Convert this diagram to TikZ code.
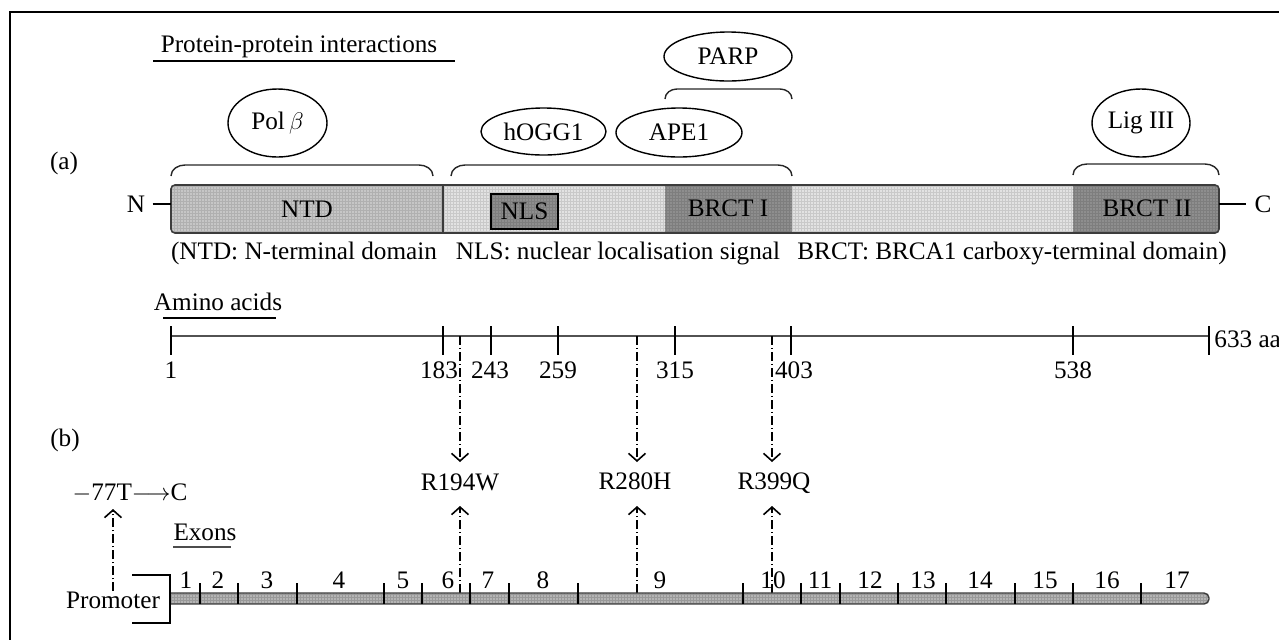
\documentclass[tikz,border=0pt]{standalone}
\usepackage{fontspec}
\setmainfont{Liberation Serif}
\usetikzlibrary{shapes.geometric,arrows.meta}

\definecolor{ntdfill}{HTML}{C6C6C6}
\definecolor{linkfill}{HTML}{E2E2E2}
\definecolor{brctfill}{HTML}{8E8E8E}
\definecolor{exonfill}{HTML}{B4B4B4}
\definecolor{barline}{HTML}{3C3C3C}

\begin{document}
\begin{tikzpicture}[x=0.5pt,y=-0.5pt,
  every node/.style={font=\fontsize{12.6pt}{15pt}\selectfont, inner sep=0pt},
  partner/.style={draw, ellipse, line width=0.7pt},
  brace/.style={draw=black!85, line width=0.7pt},
  tickmark/.style={line width=0.7pt},
  axisline/.style={draw=black!68, line width=1.4pt},
  underbar/.style={line width=0.7pt},
  texture/.style={black, opacity=0.11, line width=0.3pt},
  mutarrow/.style={line width=0.65pt,
    dash pattern=on 4.5pt off 1.4pt on 0.7pt off 1.4pt,
    -{Straight Barb[length=3.8pt,width=8.5pt,line width=0.8pt]}},
]
\useasboundingbox (0,0) rectangle (1279,639);

% outer frame (open to the right and bottom)
\draw[line width=1pt] (10,650) -- (10,12) -- (1290,12);

% ---------- (a) protein ----------
\node (ppi) at (299,47) {Protein-protein interactions};
\draw[underbar] (153,61) -- (455,61);
\node (labA) at (64,163) {(a)};

% interaction partners
\node[partner, minimum width=49.5pt, minimum height=34pt] (polb) at (277.5,123) {Pol\,$\beta$};
\node[partner, minimum width=62.5pt, minimum height=23.5pt] (hogg) at (543.5,131.5) {hOGG1};
\node[partner, minimum width=63pt, minimum height=24.5pt] (ape) at (679,132.5) {APE1};
\node[partner, minimum width=64pt, minimum height=24.5pt] (parp) at (728,56.5) {PARP};
\node[partner, minimum width=49pt, minimum height=34pt] (lig) at (1141,123) {Lig III};

% braces over the binding regions
\draw[brace] (171,176) to[out=90,in=180] (185,165) -- (419,165) to[out=0,in=90] (433,176);
\draw[brace] (451,176) to[out=90,in=180] (465,165) -- (778,165) to[out=0,in=90] (792,176);
\draw[brace] (665,99) to[out=90,in=180] (677,89) -- (780,89) to[out=0,in=90] (792,99);
\draw[brace] (1073,175) to[out=90,in=180] (1087,164) -- (1205,164) to[out=0,in=90] (1219,175);

% domain bar
\begin{scope}
  \clip[rounded corners=2pt] (171,185) rectangle (1219,233);
  \fill[linkfill] (171,185) rectangle (1219,233);
  \fill[ntdfill] (171,185) rectangle (443,233);
  \fill[brctfill] (665,185) rectangle (792,233);
  \fill[brctfill] (1073,185) rectangle (1219,233);
  \fill[brctfill] (491,194) rectangle (558,229);
  \draw[texture, step=1.5pt] (171,185) grid (1219,233);
\end{scope}
\draw[barline, line width=0.8pt, rounded corners=2pt] (171,185) rectangle (1219,233);
\draw[barline, line width=0.8pt] (443,185) -- (443,233);
\node[draw, line width=0.7pt, minimum width=33.5pt, minimum height=17.5pt] (nls) at (524.5,211.5) {NLS};
\node (ntd) at (307,209) {NTD};
\node (brct1) at (728,208) {BRCT I};
\node (brct2) at (1147,208) {BRCT II};

% termini
\coordinate (barW) at (171,204);
\coordinate (barE) at (1219,204);
\node (nterm) at (136,204) {N};
\node (cterm) at (1263,204) {C};
\draw[line width=0.7pt, shorten <=3.5pt] (nterm) -- (barW);
\draw[line width=0.7pt, shorten >=4pt] (barE) -- (cterm);

% legend
\node (capA) at (304,253) {(NTD: N-terminal domain};
\node (capB) at (618,253) {NLS: nuclear localisation signal};
\node (capC) at (1012,253) {BRCT: BRCA1 carboxy-terminal domain)};

% amino-acid scale
\node (aa) at (218,302) {Amino acids};
\draw[underbar] (163,318) -- (276,318);
\coordinate (axL) at (171,336);
\coordinate (axR) at (1209,336);
\draw[axisline] (axL) -- (axR);
\foreach \x in {171,443,491,558,675,791,1073,1209}
  \draw[tickmark] (\x,326) -- (\x,355);
\foreach \x/\t/\n in {171/1/p1, 439/183/p183, 490/243/p243, 558/259/p259,
                      675/315/p315, 794/403/p403, 1073/538/p538}
  \node (\n) at (\x,370) {\t};
\node[anchor=west] (p633) at (1214,339) {633 aa};

% ---------- (b) gene ----------
\node (labB) at (65,440) {(b)};

% mutations
\node (m1) at (460,482) {R194W};
\node (m2) at (635,481) {R280H};
\node (m3) at (774,483) {R399Q};
\node (prom77) at (130,493) {$-$77T$\longrightarrow$C};

\coordinate (a1) at (460,336); \coordinate (d1) at (460,462);
\coordinate (a2) at (637,336); \coordinate (d2) at (637,462);
\coordinate (a3) at (772,336); \coordinate (d3) at (772,462);
\draw[mutarrow] (a1) -- (d1);
\draw[mutarrow] (a2) -- (d2);
\draw[mutarrow] (a3) -- (d3);

\coordinate (e1) at (460,593); \coordinate (u1) at (460,506);
\coordinate (e2) at (637,593); \coordinate (u2) at (637,506);
\coordinate (e3) at (772,593); \coordinate (u3) at (772,506);
\draw[mutarrow] (e1) -- (u1);
\draw[mutarrow] (e2) -- (u2);
\draw[mutarrow] (e3) -- (u3);

% exon map
\node (exons) at (205,532) {Exons};
\draw[underbar, draw=black!70] (173,547) -- (231,547);

\node (prom) at (113,600) {Promoter};
\coordinate (u0) at (113,509);
\draw[mutarrow] (prom.north) -- (u0);
\draw[line width=0.8pt] (132,575) -- (170,575) -- (170,623) -- (132,623);

\begin{scope}
  \clip (171,593) [rounded corners=2.5pt]-- (1209,593) -- (1209,604) [sharp corners]-- (171,604) -- cycle;
  \fill[exonfill] (171,593) rectangle (1209,604);
  \draw[texture, opacity=0.15, step=1.5pt] (171,593) grid (1209,604);
\end{scope}
\draw[barline, line width=0.7pt] (171,593) [rounded corners=2.5pt]-- (1209,593) -- (1209,604) [sharp corners]-- (171,604);

\foreach \x in {200,238,297,384,422,470,509,578,743,801,840,898,946,1015,1073,1141}
  \draw[tickmark] (\x,583) -- (\x,604);
\foreach \x/\t in {186/1,218/2,267/3,339/4,403/5,448/6,488/7,543/8,660/9,773/10,
                   820/11,870/12,923/13,980/14,1045/15,1107/16,1177/17}
  \node (ex\t) at (\x,580) {\t};
\end{tikzpicture}
\end{document}
